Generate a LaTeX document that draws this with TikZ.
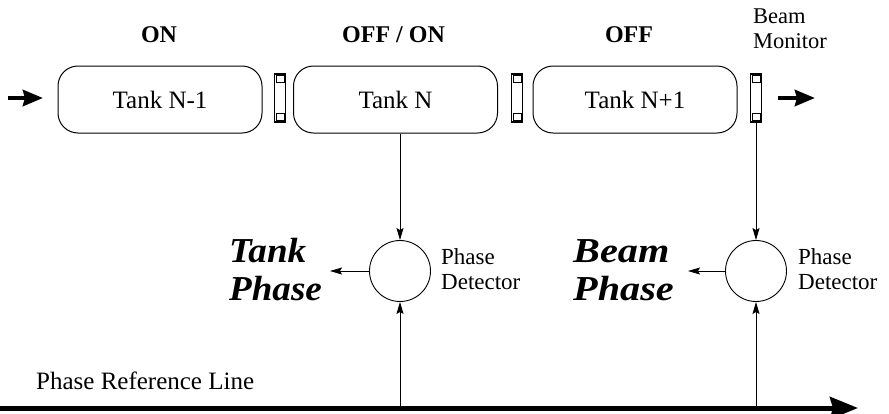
\documentclass[tikz,border=0pt]{standalone}
\usepackage{fontspec}
\setmainfont{Liberation Serif}
\newfontfamily\tankoutfont[FakeStretch=1.06]{Liberation Serif}
\newfontfamily\beamoutfont[FakeStretch=1.15]{Liberation Serif}
\usetikzlibrary{arrows.meta}

\begin{document}
\begin{tikzpicture}[x=1pt,y=-1pt,
  tank/.style={draw, line width=1pt, rounded corners=20pt, minimum width=204pt,
    minimum height=67pt, inner sep=0pt, font=\fontsize{25}{25}\selectfont},
  monitor/.style={draw, line width=1.1pt, minimum width=11pt, minimum height=48pt, inner sep=0pt},
  detector/.style={draw, circle, minimum size=61pt, inner sep=0pt, line width=0.9pt},
  sig/.style={line width=0.9pt, -{Stealth[length=12pt,width=7pt,inset=2pt]}},
  beamarrow/.style={line width=4.5pt, -{Stealth[length=20pt,width=16pt,inset=2pt]}},
  refarrow/.style={line width=5pt, -{Stealth[length=28pt,width=22pt,inset=3pt]}},
  head/.style={inner sep=0pt, anchor=base, font=\bfseries\fontsize{24}{24}\selectfont},
  lbl/.style={inner sep=0pt, anchor=base west, font=\fontsize{23}{23}\selectfont},
  tankout/.style={inner sep=0pt, anchor=base west, font=\tankoutfont\bfseries\itshape\fontsize{35}{35}\selectfont},
  beamout/.style={inner sep=0pt, anchor=base west, font=\beamoutfont\bfseries\itshape\fontsize{35}{35}\selectfont}
]
\fill[white] (0,0) rectangle (889,413);
\useasboundingbox (0,0) rectangle (889,413);

% cavity tanks
\node[tank] (tankA) at (160,99.5) {Tank N-1};
\node[tank] (tankB) at (395.5,99.5) {Tank N};
\node[tank] (tankC) at (635,99.5) {Tank N+1};

% beam monitors between the tanks
\node[monitor] (m1) at (280,98) {};
\node[monitor] (m2) at (517,98) {};
\node[monitor] (m3) at (756,98) {};
\foreach \m in {m1,m2,m3}{
  \draw[line width=0.8pt] ([xshift=2pt,yshift=-2pt]\m.north west) rectangle ([xshift=-2pt,yshift=-9pt]\m.north east);
  \draw[line width=0.8pt] ([xshift=2pt,yshift=2pt]\m.south west) rectangle ([xshift=-2pt,yshift=9pt]\m.south east);
}

% state labels
\node[head] (s1) at (159,42) {ON};
\node[head] (s2) at (393.5,42) {OFF / ON};
\node[head] (s3) at (629,42) {OFF};
\node[lbl, font=\fontsize{22.5}{22.5}\selectfont] (bm1) at (753,23) {Beam};
\node[lbl, font=\fontsize{22.5}{22.5}\selectfont] (bm2) at (753,48) {Monitor};

% beam direction
\coordinate (in0) at (8,98);
\coordinate (in1) at (43,98);
\coordinate (out0) at (778,98);
\coordinate (out1) at (815,98);
\draw[beamarrow] (in0) -- (in1);
\draw[beamarrow] (out0) -- (out1);

% phase detectors
\node[detector] (pd1) at (400,271) {};
\node[detector] (pd2) at (756,271) {};
\node[lbl] (pdl1a) at (441,264) {Phase};
\node[lbl] (pdl1b) at (441,289) {Detector};
\node[lbl] (pdl2a) at (798,264) {Phase};
\node[lbl] (pdl2b) at (798,289) {Detector};

% outputs
\coordinate (tp) at (330,271);
\coordinate (bp) at (688,271);
\node[tankout] (tp1) at (229,262) {Tank};
\node[tankout] (tp2) at (229,300) {Phase};
\node[beamout] (bp1) at (573,262) {Beam};
\node[beamout] (bp2) at (573,300) {Phase};

% phase reference line
\coordinate (refL) at (0,408);
\coordinate (refR) at (858,408);
\node[lbl, font=\fontsize{25}{25}\selectfont] (refl) at (36,389) {Phase Reference Line};
\draw[refarrow] (refL) -- (refR);

% signal connections
\draw[sig] (pd1.north |- tankB.south) -- (pd1.north);
\draw[sig] (m3.south) -- (pd2.north);
\draw[sig] (pd1.south |- refL) -- (pd1.south);
\draw[sig] (pd2.south |- refL) -- (pd2.south);
\draw[sig] (pd1.west) -- (tp);
\draw[sig] (pd2.west) -- (bp);
\end{tikzpicture}
\end{document}
